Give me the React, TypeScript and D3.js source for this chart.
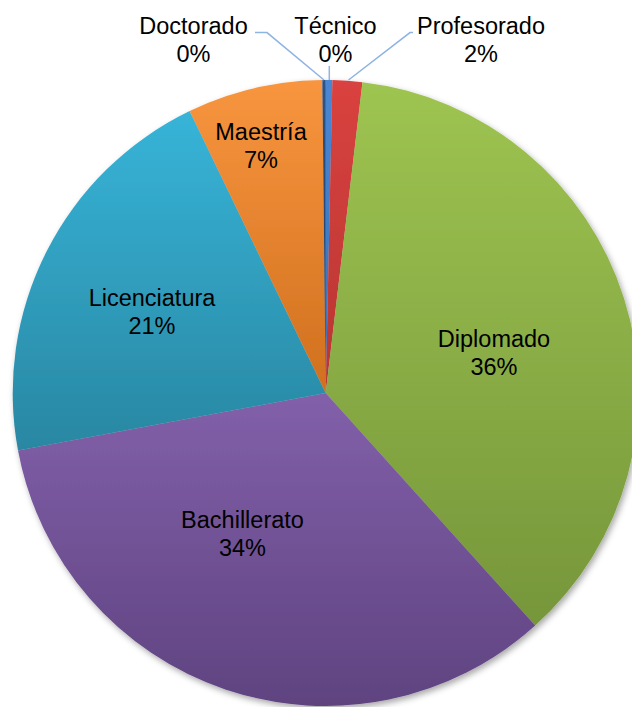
import React from "react";
import * as d3 from "d3";

const categories = ["Técnico", "Profesorado", "Diplomado", "Bachillerato", "Licenciatura", "Maestría", "Doctorado"];
const counts = [2, 9, 214, 198, 122, 41, 1];
const topColors = ["#4A86D2", "#D9423F", "#9EC451", "#8260AA", "#37B4D8", "#F8953F", "#2A5489"];
const bottomColors = ["#3570B8", "#B83532", "#76963A", "#5F4380", "#2987A2", "#D0701E", "#1E3D66"];

const W = 632;
const H = 707;
const CX = 325.7;
const CY = 393;
const R = 313;
const FONT = "'Liberation Sans', Arial, sans-serif";
const FS = 23.5;
const LH = 28.3;

// label layout: [centerX, firstBaselineY]
const labelLayout: Record<string, [number, number]> = {
  "Técnico": [335.5, 33.5],
  "Profesorado": [481, 33.5],
  "Diplomado": [494, 346.7],
  "Bachillerato": [242.5, 527.5],
  "Licenciatura": [152, 305.5],
  "Maestría": [261, 140],
  "Doctorado": [193.5, 33.5],
};

const leaderLines: Record<string, [number, number][]> = {
  "Doctorado": [[255, 32.6], [267, 32.6], [324, 80]],
  "Técnico": [[329.3, 66], [329.3, 80]],
  "Profesorado": [[413, 32.6], [410, 32.6], [348.5, 80]],
};

export default function App() {
  const total = d3.sum(counts);
  const pie = d3.pie<number>().sort(null).value((d) => d).startAngle(0).endAngle(2 * Math.PI);
  const arcs = pie(counts);
  const arc = d3.arc<d3.PieArcDatum<number>>().innerRadius(0).outerRadius(R);
  const line = d3.line<[number, number]>();

  return (
    <svg width={W} height={H} style={{ position: "absolute", left: 0, top: 0, background: "#fff" }}>
      <defs>
        {categories.map((c, i) => (
          <linearGradient key={c} id={`g${i}`} x1="0" y1="0" x2="0" y2="1">
            <stop offset="0" stopColor={topColors[i]} />
            <stop offset="1" stopColor={bottomColors[i]} />
          </linearGradient>
        ))}
        <filter id="shadow" x="-10%" y="-10%" width="120%" height="120%">
          <feDropShadow dx="2" dy="3" stdDeviation="3" floodColor="#000" floodOpacity="0.35" />
        </filter>
      </defs>
      <g transform={`translate(${CX},${CY})`} filter="url(#shadow)">
        {arcs.map((a, i) => (
          <path key={categories[i]} d={arc(a) || ""} fill={`url(#g${i})`} />
        ))}
      </g>
      {Object.entries(leaderLines).map(([k, pts]) => (
        <path key={k} d={line(pts) || ""} fill="none" stroke="#8EB4E3" strokeWidth={1.5} />
      ))}
      {categories.map((c, i) => {
        const [x, y] = labelLayout[c];
        const pct = Math.round((counts[i] / total) * 100);
        return (
          <text key={c} x={x} y={y} textAnchor="middle" fontFamily={FONT} fontSize={FS} fill="#000">
            <tspan x={x} y={y}>{c}</tspan>
            <tspan x={x} y={y + LH}>{pct}%</tspan>
          </text>
        );
      })}
    </svg>
  );
}
